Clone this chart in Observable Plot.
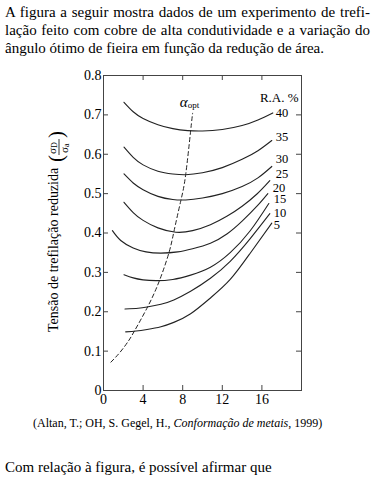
<!DOCTYPE html>
<html>
<head>
<meta charset="utf-8">
<script src="https://cdn.jsdelivr.net/npm/d3@7"></script>
<script src="https://cdn.jsdelivr.net/npm/@observablehq/plot@0.6"></script>
<style>
  html, body { margin: 0; padding: 0; background: #fff; }
  body { width: 374px; height: 484px; position: relative; overflow: hidden; font-family: "Liberation Serif", "Times New Roman", serif; color: #000; }
  #q { position: absolute; left: 5px; top: 3px; width: 365px; font-size: 15px; line-height: 18px; }
  #q .j { text-align: justify; text-align-last: justify; white-space: nowrap; }
  #chart { position: absolute; left: 0; top: 60px; }
  #cap { position: absolute; left: 33px; top: 416px; font-size: 12px; line-height: 14px; white-space: nowrap; }
  #end { position: absolute; left: 5px; top: 458px; font-size: 15px; line-height: 18px; white-space: nowrap; }
</style>
</head>
<body>
<div id="q">
  <div class="j">A figura a seguir mostra dados de um experimento de trefi-</div>
  <div class="j">lação feito com cobre de alta condutividade e a variação do</div>
  <div>ângulo ótimo de fieira em função da redução de área.</div>
</div>
<div id="chart"></div>
<div id="cap">(Altan, T.; OH, S. Gegel, H., <i>Conformação de metais</i>, 1999)</div>
<div id="end">Com relação à figura, é possível afirmar que</div>
<script>
// ---- data ----
const raLabels = ["40", "35", "30", "25", "20", "15", "10", "5"];

const ra40X = [2.07, 3.0, 4.0, 5.5, 7.0, 8.5, 10, 12, 14, 15.6, 17.1];
const ra40Y = [0.732, 0.708, 0.691, 0.675, 0.665, 0.660, 0.659, 0.663, 0.673, 0.687, 0.705];
const ra35X = [2.07, 3, 4, 5.5, 7, 8.3, 10, 12, 14, 15.6, 17.0];
const ra35Y = [0.618, 0.592, 0.573, 0.557, 0.550, 0.548, 0.553, 0.566, 0.587, 0.609, 0.635];
const ra30X = [2.07, 3, 4, 5.5, 7, 8.3, 10, 12, 14, 15.6, 17.0];
const ra30Y = [0.550, 0.527, 0.510, 0.493, 0.485, 0.484, 0.489, 0.500, 0.518, 0.540, 0.569];
const ra25X = [2.07, 3, 4, 5.5, 7.3, 9, 10.8, 12.5, 14, 15.5, 16.8];
const ra25Y = [0.478, 0.452, 0.432, 0.413, 0.402, 0.406, 0.421, 0.443, 0.468, 0.499, 0.533];
const ra20X = [0.9, 1.74, 3, 4.3, 5.8, 7.5, 9, 10.8, 12.5, 14, 15.5, 16.6];
const ra20Y = [0.406, 0.381, 0.362, 0.352, 0.349, 0.352, 0.360, 0.374, 0.398, 0.430, 0.468, 0.500];
const ra15X = [2.07, 3, 4, 5.3, 7, 8.8, 10.8, 12.8, 14.8, 16.7];
const ra15Y = [0.294, 0.286, 0.281, 0.279, 0.282, 0.293, 0.313, 0.350, 0.405, 0.475];
const ra10X = [2.17, 3.5, 4.4, 5.8, 7.1, 8.8, 10.8, 12.8, 14.8, 16.8];
const ra10Y = [0.207, 0.209, 0.212, 0.219, 0.230, 0.252, 0.285, 0.328, 0.385, 0.449];
const ra5X = [2.24, 3.3, 4.4, 5.8, 7.1, 8.8, 10.8, 12.8, 14.8, 17.0];
const ra5Y = [0.149, 0.151, 0.155, 0.162, 0.173, 0.195, 0.235, 0.282, 0.348, 0.425];

// optimum die angle locus (dashed)
const optX = [0.75, 1.7, 2.5, 3.1, 4.45, 5.65, 6.6, 7.1, 7.8, 8.3, 8.8, 9.0];
const optY = [0.072, 0.098, 0.125, 0.150, 0.212, 0.279, 0.349, 0.402, 0.481, 0.548, 0.659, 0.704];

// curve label anchor positions
const labelX = [17.4, 17.4, 17.4, 17.4, 17.1, 17.2, 17.2, 17.2];
const labelY = [0.706, 0.643, 0.587, 0.550, 0.515, 0.486, 0.452, 0.421];

const xTicks = [0, 4, 8, 12, 16];
const yTicks = [0, 0.1, 0.2, 0.3, 0.4, 0.5, 0.6, 0.7, 0.8];
const xTickMarks = [4, 8, 12, 16];
const yTickMarks = [0.1, 0.2, 0.3, 0.4, 0.5, 0.6, 0.7];

// ---- build ----
const seriesX = [ra40X, ra35X, ra30X, ra25X, ra20X, ra15X, ra10X, ra5X];
const seriesY = [ra40Y, ra35Y, ra30Y, ra25Y, ra20Y, ra15Y, ra10Y, ra5Y];
const curves = [];
raLabels.forEach((ra, i) => {
  seriesX[i].forEach((x, j) => curves.push({ra, x, y: seriesY[i][j]}));
});
const opt = optX.map((x, i) => ({x, y: optY[i]}));
const labels = raLabels.map((t, i) => ({t, x: labelX[i], y: labelY[i]}));

const W = 374, H = 350, mL = 103, mR = 73, mT = 15, mB = 20;
const frameW = W - mL - mR, frameH = H - mT - mB;
const tick = 5;
const ink = "#222";
const serif = "'Liberation Serif', 'Times New Roman', serif";

const svg = Plot.plot({
  width: W, height: H,
  marginLeft: mL, marginRight: mR, marginTop: mT, marginBottom: mB,
  style: {fontFamily: serif, fontSize: "14px", color: "#000", background: "#fff"},
  x: {domain: [0, 20], label: null},
  y: {domain: [0, 0.8], label: null},
  marks: [
    Plot.frame({stroke: "#444", strokeWidth: 1}),
    Plot.ruleX(xTickMarks, {x: d => d, insetTop: frameH - tick, stroke: "#444"}),
    Plot.ruleX(xTickMarks, {x: d => d, insetBottom: frameH - tick, stroke: "#444"}),
    Plot.ruleY(yTickMarks, {y: d => d, insetRight: frameW - tick, stroke: "#444"}),
    Plot.ruleY(yTickMarks, {y: d => d, insetLeft: frameW - tick, stroke: "#444"}),
    Plot.axisY({ticks: yTicks, tickSize: 0, tickPadding: 2, tickFormat: d => d === 0 ? "0" : d.toFixed(1), fontSize: 14}),
    Plot.axisX({ticks: xTicks, tickSize: 0, tickPadding: 4, fontSize: 14}),
    Plot.line(curves, {x: "x", y: "y", z: "ra", curve: "natural", stroke: ink, strokeWidth: 1.1}),
    Plot.line(opt, {x: "x", y: "y", curve: "natural", stroke: ink, strokeWidth: 1, strokeDasharray: "4,3"}),
    Plot.text(labels, {x: "x", y: "y", text: "t", textAnchor: "start", fontSize: 12.5, fill: "#000"}),
    Plot.text(["R.A. %"], {x: [19.7], y: [0.744], text: d => d, textAnchor: "end", fontSize: 13, fill: "#000"}),
    Plot.text(["α"], {x: [8.5], y: [0.732], text: d => d, textAnchor: "end", fontSize: 15, fontStyle: "italic", fill: "#000"}),
    Plot.text(["opt"], {x: [8.5], y: [0.725], text: d => d, textAnchor: "start", fontSize: 9, fill: "#000"})
  ]
});

// rotated y-axis title with fraction σD / σa
const top0 = 60;
const g = d3.select(svg).append("g")
  .attr("transform", `translate(58,${332 - top0}) rotate(-90)`)
  .attr("font-family", serif)
  .attr("text-anchor", "start")
  .attr("fill", "#000");
g.append("text").attr("x", 0).attr("y", 0).attr("font-size", 14).text("Tensão de trefilação reduzida");
g.append("text").attr("x", 170).attr("y", 5).attr("font-size", 21).text("(");
const num = g.append("text").attr("x", 178).attr("y", -2).attr("font-size", 11);
num.append("tspan").text("σ");
num.append("tspan").attr("font-size", 8).attr("dy", 1).text("D");
g.append("line").attr("x1", 177).attr("x2", 193).attr("y1", 1).attr("y2", 1).attr("stroke", "#000").attr("stroke-width", 0.8);
const den = g.append("text").attr("x", 179).attr("y", 10).attr("font-size", 11);
den.append("tspan").text("σ");
den.append("tspan").attr("font-size", 8).attr("dy", 1).text("a");
g.append("text").attr("x", 194).attr("y", 5).attr("font-size", 21).text(")");

document.getElementById("chart").appendChild(svg);
</script>
</body>
</html>
